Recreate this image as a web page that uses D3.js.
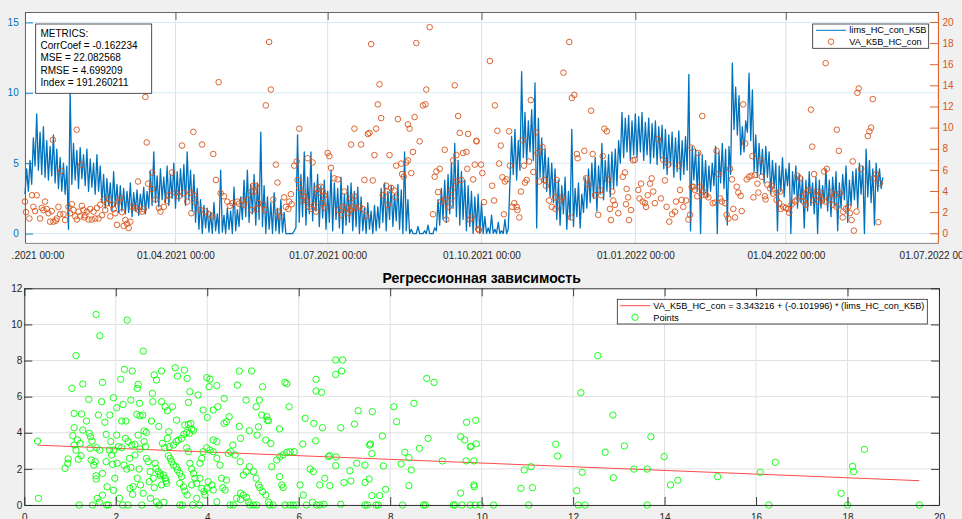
<!DOCTYPE html>
<html><head><meta charset="utf-8">
<script src="https://cdn.jsdelivr.net/npm/d3@7"></script>
<style>
body{margin:0;background:#f0f0f0;}
svg{display:block;font-family:"Liberation Sans",Arial,Helvetica,sans-serif;}
</style>
</head><body>
<svg id="c" width="962" height="519"></svg>
<script>
// ---------------- DATA ----------------
const xTickDates = ["2021-01-01","2021-04-01","2021-07-01","2021-10-01","2022-01-01","2022-04-01","2022-07-01"];
const yLeftTicks = [0,5,10,15];
const yRightTicks = [0,2,4,6,8,10,12,14,16,18,20];
const bottomXTicks = [0,2,4,6,8,10,12,14,16,18,20];
const bottomYTicks = [0,2,4,6,8,10,12];

// lims_HC_con_K5B : low / high value within each 2-day bin, starting 01.01.2021
const hcLow = [
2.8,3.0,3.5,4.8,4.5,4.2,4.0,3.8,4.1,3.6,
3.2,3.0,2.8,0.3,3.5,3.8,3.2,3.9,3.4,3.0,
3.3,2.8,3.0,2.2,1.8,2.0,1.6,1.9,1.5,1.6,
1.4,1.5,1.2,1.6,1.3,1.7,1.4,1.8,2.0,2.2,
1.9,2.4,2.2,2.0,2.5,1.8,2.3,2.6,2.0,2.4,
1.6,0.8,0.3,0.0,0.4,0.1,0.0,0.2,0.0,0.1,
0.0,0.3,0.0,0.2,0.5,1.0,1.2,0.8,1.4,0.6,
1.0,0.5,0.0,0.3,0.0,0.2,0.0,0.1,0,0,
0,0.4,0.8,1.2,0.6,1.4,0.9,1.6,0.5,1.1,
0.3,0.8,0.2,1.0,0.4,0.0,0.6,0.8,0.2,0.5,
0.0,0.2,0.0,0.3,0.0,0.2,0.4,0.8,0.2,1.0,
0.5,0.9,0.3,0.0,0.2,0,0,0,0,0,
0,0,0,0.2,0.6,1.0,0.8,1.4,1.8,1.2,
0.6,1.0,0.2,0.5,0.0,0.3,0.0,0,0,0,
0,0,0,0,0,3.6,4.2,3.8,4.5,5.4,
5.0,5.8,5.2,0.4,4.0,3.6,3.0,2.6,2.2,1.0,
0.6,1.4,0.3,1.0,0.5,1.2,0.4,1.5,1.8,2.2,
2.5,1.6,2.8,2.4,3.0,2.6,3.2,3.4,5.0,5.4,
5.8,5.2,5.6,5.4,5.8,5.2,5.6,5.0,5.4,4.9,
5.3,4.6,4.2,4.8,4.0,4.4,3.8,4.2,4.5,0.2,
3.8,3.0,0.0,2.8,2.6,3.0,3.4,0.0,3.6,3.2,
0.6,4.2,7.4,7.0,5.6,5.8,7.2,6.6,4.4,4.0,
4.2,3.6,4.0,2.8,3.2,0.2,3.0,2.6,3.4,0.0,
2.8,1.8,2.2,0.4,1.6,2.0,1.4,0.0,1.8,2.2,
1.6,1.2,2.0,0.2,1.8,2.4,0.8,2.0,2.4,1.8,
2.8,0.0,2.6,2.2,0.6,3.0,3.2];
const hcHigh = [
4.6,5.2,6.8,8.5,7.2,7.6,6.6,6.2,7.0,6.0,
5.4,5.0,4.8,10.2,6.4,5.9,6.1,5.6,6.0,5.3,
5.0,5.6,4.8,4.2,3.9,3.6,4.4,3.5,3.4,3.2,
3.0,3.6,2.9,3.1,2.8,3.3,3.0,4.4,5.8,4.1,
4.6,4.0,4.8,4.2,5.0,4.4,4.6,4.9,5.8,4.5,
4.2,3.2,2.4,2.0,1.8,1.5,2.2,1.4,4.5,1.3,
1.8,1.6,3.3,1.7,2.6,3.8,4.5,3.5,4.2,3.6,
7.2,3.4,2.6,2.2,2.9,1.8,2.4,1.5,0,0,
0.2,7.0,4.2,5.8,4.0,5.8,3.6,4.2,3.4,3.8,
3.0,4.5,3.6,3.2,4.0,2.8,3.4,3.6,3.0,3.3,
2.6,1.8,2.2,1.6,2.0,1.9,3.2,3.6,3.0,3.4,
2.8,3.5,3.1,5.8,2.4,0.3,0,0.5,0,0.2,
0.6,0,0.4,2.4,3.2,3.8,4.2,5.0,6.4,5.2,
4.4,3.8,3.4,3.0,2.6,2.8,2.2,1.2,0.4,1.3,
0.3,0.8,0.2,1.0,0.3,6.9,7.4,6.6,11.5,8.6,
8.0,8.8,10.7,8.2,6.8,6.0,5.4,5.0,4.6,3.8,
3.4,4.0,3.0,7.4,3.2,3.6,2.8,4.0,4.6,5.0,
5.4,4.8,6.4,5.2,5.6,5.8,6.0,6.6,8.6,8.2,
8.4,8.0,8.5,8.3,8.6,7.9,8.2,7.8,8.0,7.6,
7.7,7.4,7.0,7.2,6.8,7.3,6.6,6.9,11.3,6.2,
6.0,5.8,5.6,5.2,4.8,5.0,6.2,5.8,6.4,6.0,
6.2,12.1,10.4,9.8,7.6,8.0,11.4,10.2,7.0,6.4,
6.0,6.2,5.8,5.2,5.0,4.8,5.4,4.6,5.0,4.4,
4.8,4.2,4.0,3.8,4.4,3.6,4.0,3.8,3.4,4.6,
3.8,4.0,4.4,3.6,4.2,4.8,3.8,4.4,4.6,5.0,
4.8,6.0,5.2,4.6,5.0,4.6,4.0];

// VA_K5B_HC_con : [day since 01.01.2021, value]
const vaPoints = [
[57.8,16.4],[72,12.9],[115.8,14.3],[30.9,9.8],[16.7,8.85],[72.8,8.6],[100.7,9.6],[93.9,8.3],[105.9,8.4],[112.6,7.5],
[33.7,6.5],[21.7,5.9],[76,5.75],[87.9,5.75],[67.6,4.9],[73.6,4.7],[75.8,4.2],[114.2,5.05],[136.5,4.5],[4.2,3.6],
[7,3.6],[0,3.0],[0.6,2.0],[5,2.5],[6,2.1],[2.6,1.4],[9,1.4],[11,2.2],[12,3.0],[14,1.9],
[15,1.1],[17,1.1],[18.5,1.2],[20,2.5],[21,1.8],[23,1.8],[24,1.25],[26,2.5],[28,2.75],[29,2.2],
[30,1.6],[32,2.05],[35,2.2],[37,2.05],[33,1.6],[35.5,1.5],[38,1.3],[40,1.3],[42,1.4],[44,1.4],
[41,2.05],[43,2.4],[45,2.7],[47,3.2],[49,2.85],[50.4,3.2],[52,2.7],[54,1.9],[56,3.0],[57,3.3],
[60,1.25],[61,0.9],[63,1.1],[64,2.5],[66,2.4],[68,2.2],[70,2.05],[71,2.3],[78,3.2],[80,2.4],
[81,2.05],[83,2.5],[85,3.05],[86,3.6],[90,3.85],[92,3.5],[95,3.8],[97,3.0],[99,3.85],[101,3.6],
[99.5,1.9],[102,2.9],[105,2.2],[108,2.05],[110,1.8],[112,1.6],[117,3.8],[119,3.5],[121,3.0],[124,2.85],
[127,3.0],[130,3.1],[133,3.2],[122.5,2.6],[128,2.8],[131,2.7],[135.5,2.2],[135.5,3.95],
[10,2.4],[13,2.3],[16,2.1],[19,1.4],[27,1.9],[31,1.3],[34,2.6],[36,1.7],[39,2.3],[46,1.7],
[48,2.2],[51,1.6],[53,2.3],[55,0.8],[58,2.0],[59,0.7],[62,0.5],
[146,18.1],[147,13.6],[144,12.1],[164,9.9],[207,17.9],[234,18.0],[242,19.5],[212,14.1],[211,12.2],[213,10.9],
[240,13.6],[238,12.1],[239.5,12.2],[257,14.0],[259,11.1],[233,11.0],[223,10.8],[229,10.3],[230,9.9],[210,9.9],
[205,9.4],[206,9.5],[197,9.9],[195,8.4],[201,8.4],[209,7.4],[218,7.4],[236,8.7],[232,7.7],[260,9.5],
[265,9.4],[270,8.7],[251,7.9],[256,6.9],[258,7.4],[262,7.6],[264,7.7],[269,6.5],[264.5,6.1],[268,5.1],
[261,5.05],[222,6.4],[225,6.6],[228,6.7],[229,6.9],[225.5,5.6],[226.5,5.35],[231,5.7],[246,5.85],[248,6.1],
[245,5.35],[247,3.9],[249,3.0],[251,3.2],[244,1.8],[252,1.3],[253.5,2.5],[255,3.3],[266,1.3],[267,1.5],
[271,0.4],[181,7.6],[182,7.3],[183,6.2],[185,5.2],[187,5.1],[169,7.1],[172,6.7],[161,6.4],[162.5,6.8],
[150,6.5],[151,4.8],[138,4.5],[137,3.95],[163,5.05],[164,4.3],[166,3.85],[167,3.5],[165.5,3.1],[168,3.1],
[174.5,4.2],[177,4.4],[178,3.95],[179,3.6],[175,3.8],[191,3.95],[195,3.3],[197,3.5],[203,5.05],[208,5.0],
[216,4.5],[219,4.3],[221,4.05],[214,3.6],[216.5,3.95],[221.5,3.4],[217,2.7],[155,3.4],[158,3.0],[159,3.7],
[148.5,3.2],[156,2.5],[157.5,2.3],[159.5,2.75],[151.5,2.05],[153,1.6],[142.5,2.7],[143.5,2.2],[139.5,2.85],[138.5,2.3],
[170,2.5],[171.5,2.3],[173,2.7],[174,2.05],[177.5,2.85],[179.5,2.4],[187.5,2.2],[189,1.75],[190,2.5],[192,2.4],
[193.5,1.9],[194.5,2.2],[196,2.5],[198,2.4],[200,2.5],[202,2.3],[204,1.65],[255,4.1],[258,4.9],
[325.5,18.1],[278,16.3],[322,15.2],[328.5,13.1],[327,12.8],[302.5,12.6],[281,12.1],[338.5,11.6],[346.5,9.9],[348,9.65],
[282.5,9.7],[289.5,9.65],[305.5,9.55],[297.5,8.8],[270,8.75],[284.5,8.3],[309.5,8.15],[306.5,7.6],[334.5,7.8],[339.5,7.5],
[330,7.5],[330.5,7.1],[345.5,7.3],[378.5,8.9],[405,11.1],[363.7,6.9],[364.7,6.95],[381.7,6.95],[384.7,6.5],[391,6.4],
[398.7,8.1],[402.6,7.6],[283.5,6.6],[290,6.4],[301.4,6.8],[298.4,6.4],[272.7,6.5],[273.5,5.7],[285.5,5.3],[288,5.1],
[287,4.9],[279.4,4.5],[304,5.8],[300,5.05],[299,4.8],[307.5,4.9],[310.5,5.05],[311.5,4.5],[318,5.05],[335.5,5.2],
[337,4.6],[348.5,5.1],[357.5,5.35],[358.8,5.75],[368.4,4.7],[373.8,4.7],[374.8,5.2],[382.7,5.0],[398.7,4.4],[400.6,4.1],
[402,3.5],[296.6,3.95],[313.4,3.1],[317,3.4],[320,3.15],[321,3.4],[315,2.5],[317.3,2.3],[292.6,2.85],[294,2.5],
[294.5,2.2],[295.6,1.5],[291.4,2.5],[286.4,1.8],[280.5,3.1],[274.5,2.95],[326.5,1.5],[342.8,1.75],[340.9,3.6],[344.5,3.6],
[343.9,4.1],[351.2,3.95],[351.8,3.1],[352.8,2.7],[349.8,2.3],[354.8,1.9],[350.4,1.25],[359.8,4.2],[360.7,3.4],[359.4,2.75],
[362.4,2.2],[361.2,1.25],[366.8,4.1],[367.5,3.3],[369.4,3.0],[370.8,2.85],[371.4,2.5],[372.4,3.6],[375.7,3.95],[376.7,2.85],
[380.3,3.3],[383.7,2.5],[385.3,1.1],[387,1.8],[388.7,2.05],[389.3,3.0],[391.7,4.1],[392.7,3.15],[393.7,2.5],[395.3,3.1],
[396.7,1.3],[397.7,1.75],[399.7,4.4],[405.6,3.95],[271.5,0.3],
[478.8,16.1],[498.6,13.7],[497.8,13.3],[507,12.7],[470,11.7],[429.5,12.2],[485.5,9.8],[506,10.0],[505,9.65],[504,9.2],
[470.8,8.2],[486.7,7.8],[430.7,8.5],[413.6,7.8],[435,7.3],[439.8,6.9],[495,6.8],[500,6.1],[421.6,6.1],[479.5,6.1],
[477.9,5.85],[471.9,5.6],[462,5.45],[463.5,5.2],[509,5.6],[507.6,5.2],[511.3,4.75],[414.6,5.6],[422.8,5.1],[431.6,5.1],
[433,5.35],[434.5,5.45],[436.6,5.5],[440.6,5.35],[438,4.7],[444,4.6],[445.6,4.25],[446.6,4.5],[425.6,4.4],[426.6,3.85],
[428,3.55],[403.7,4.4],[404.7,3.6],[407.3,3.6],[408.7,3.4],[411.3,2.85],[412.7,2.9],[415.7,3.3],[416.7,3.0],[418.6,2.85],
[419.6,1.75],[420.6,1.4],[424.6,1.5],[423.6,2.3],[428.6,2.1],[435.6,3.4],[438.6,3.85],[442.5,3.5],[447.5,3.75],[449.5,3.85],
[451.5,3.95],[442.9,3.2],[449.5,3.15],[451,2.85],[452,2.3],[453.5,2.5],[455,2.4],[456.4,2.3],[457,1.95],[458.5,2.75],
[460.5,3.0],[461.5,3.15],[464.5,3.5],[465.8,3.0],[467,2.7],[467.8,3.95],[468.8,4.1],[473.4,3.95],[474.4,3.6],[475.8,3.8],
[471.4,3.15],[474.4,3.0],[476.5,3.15],[478.4,3.0],[480.8,3.2],[482.4,3.85],[484.4,3.6],[487.3,3.8],[483.4,2.7],[485.4,2.5],
[489.3,2.05],[490.9,2.3],[492.3,2.5],[493.3,1.9],[489,1.5],[494.3,1.25],[495.7,0.25],[497.3,2.05],[510.3,1.05]];

// Regression scatter: [VA_K5B_HC_con, lims_HC_con_K5B]
const scatPoints = [
[0.29,3.54],[0.31,0.37],[0.89,2.03],[0.95,2.31],[0.96,2.55],[1.04,6.46],[1.06,3.84],[1.09,4.28],[1.09,5.07],[1.13,8.27],
[1.09,3.32],[1.13,3.04],[1.16,3.60],[1.18,2.53],[1.22,3.41],[1.24,2.73],[1.25,5.04],[1.28,6.70],[1.28,4.15],[1.20,0],
[1.36,4.65],[1.41,5.85],[1.42,3.97],[1.45,3.78],[1.44,3.14],[1.48,3.54],[1.46,2.49],[1.49,0],[1.52,2.21],[1.55,2.40],
[1.57,1.62],[1.57,1.44],[1.57,10.55],[1.58,3.17],[1.62,4.98],[1.60,0.37],[1.64,0.15],[1.65,3.04],[1.65,9.37],
[1.69,5.72],[1.71,6.79],[1.71,1.75],[1.71,0.55],[1.76,4.58],[1.79,3.91],[1.79,2.40],[1.80,0],[1.81,1.01],[1.84,0],
[1.86,3.04],[1.87,4.98],[1.89,3.51],[1.91,2.77],[1.93,2.25],[1.95,5.94],[1.95,0.81],[1.96,3.04],[1.98,1.48],
[2.02,5.39],[2.02,3.87],[2.03,2.31],[2.06,3.23],[2.08,0.37],[2.11,6.96],[2.13,4.65],[2.13,3.17],[2.15,0],[2.16,5.57],
[2.18,2.21],[2.19,7.51],[2.21,3.69],[2.22,4.65],[2.24,1.99],[2.25,10.24],[2.27,0],[2.27,3.51],[2.30,2.58],[2.31,0.92],
[2.33,5.81],[2.33,2.07],[2.35,3.32],[2.36,7.42],[2.37,0.59],[2.38,1.01],
[2.42,2.77],[2.42,3.36],[2.46,5.02],[2.47,6.46],[2.47,1.48],[2.49,6.68],[2.49,3.87],[2.51,1.99],[2.52,5.63],[2.53,3.10],
[2.53,4.94],[2.54,1.11],[2.57,0],[2.59,4.98],[2.60,8.52],[2.60,0.65],[2.62,4.10],[2.62,3.51],[2.65,3.23],[2.67,4.02],
[2.67,2.58],[2.71,2.40],[2.73,1.29],[2.75,1.85],[2.76,0.37],[2.78,4.65],
[2.80,6.18],[2.81,5.72],[2.82,1.48],[2.84,7.20],[2.84,0.96],[2.86,2.31],[2.88,2.03],[2.89,6.92],[2.89,0.18],[2.93,1.85],
[2.94,4.35],[2.95,0],[2.97,1.72],[2.98,1.62],[3.00,7.42],[3.00,5.72],[3.00,1.11],[3.02,3.41],[3.04,1.66],[3.05,0.15],
[3.07,3.17],[3.08,1.48],[3.08,5.44],[3.10,1.33],[3.11,1.20],[3.13,5.22],[3.13,3.69],[3.15,2.73],[3.16,4.06],[3.17,3.23],[3.19,2.58],
[3.22,2.40],[3.24,5.44],[3.26,2.21],[3.26,3.32],[3.30,7.60],[3.32,3.51],[3.32,2.12],[3.33,4.70],[3.35,1.94],[3.35,7.14],
[3.37,3.60],[3.40,1.75],[3.40,1.20],[3.40,0],[3.44,3.69],[3.44,1.57],[3.46,0],[3.48,1.01],[3.49,3.91],[3.50,7.47],
[3.51,4.43],[3.51,0.77],[3.55,3.17],[3.55,4.02],[3.56,7.01],[3.56,0.55],[3.59,4.46],[3.59,5.68],[3.59,2.95],
[3.61,3.97],[3.62,6.27],[3.62,2.31],[3.64,4.52],[3.66,1.99],[3.66,4.21],[3.66,1.11],[3.68,0],[3.70,1.75],[3.70,4.13],
[3.73,1.48],[3.77,1.20],[3.77,0.37],[3.80,6.09],[3.83,0],[3.84,1.48],[3.84,2.31],[3.88,0.92],[3.88,2.58],[3.91,5.26],
[3.91,2.95],[3.93,0.74],[3.95,0.55],[3.99,7.05],[3.99,3.17],[3.99,0.92],
[4.00,4.85],[4.02,1.29],[4.04,6.55],[4.06,6.97],[4.06,3.04],[4.10,1.11],[4.13,5.26],[4.13,3.60],[4.13,2.95],[4.13,0.83],
[4.21,3.51],[4.21,0.18],[4.21,6.61],[4.21,2.58],[4.23,5.44],[4.28,2.21],[4.31,1.48],[4.34,0.96],[4.37,4.52],[4.37,5.90],[4.39,0.83],
[4.42,4.61],[4.42,1.38],[4.46,2.86],[4.48,4.89],[4.50,0],[4.51,2.95],[4.56,3.32],[4.57,0],[4.61,2.77],[4.64,0.37],
[4.66,6.64],[4.70,7.42],[4.70,4.35],[4.72,2.40],[4.73,0.30],[4.73,3.69],[4.73,0.65],[4.79,1.66],[4.79,0.55],
[4.85,5.81],[4.85,1.85],[4.86,0.41],[4.90,0.18],[4.92,4.11],[4.92,2.12],[4.93,0],[4.97,7.42],[5.01,1.85],[5.01,0],
[5.07,5.44],[5.07,1.48],[5.08,0],[5.09,3.87],[5.12,4.33],[5.12,1.11],[5.14,5.81],[5.15,0.96],[5.19,4.98],
[5.21,6.55],[5.21,0.74],[5.28,3.60],[5.28,0.55],[5.30,4.89],[5.31,4.70],[5.34,4.67],[5.34,0.15],[5.36,0],[5.39,3.41],
[5.41,2.12],[5.44,0],[5.52,2.49],[5.58,4.21],[5.58,1.57],[5.59,2.68],
[5.63,1.11],[5.66,2.77],[5.66,0.96],[5.70,6.79],[5.70,0],[5.74,6.72],[5.74,2.92],[5.79,5.44],[5.81,0],[5.81,2.95],
[5.88,0],[5.90,2.95],[5.95,0],
[6.03,1.11],[6.09,3.38],[6.10,0.55],[6.14,4.80],[6.17,0],[6.25,1.99],[6.30,0.15],[6.32,1.85],[6.33,4.52],[6.37,3.56],
[6.38,6.96],[6.38,6.31],[6.39,0],[6.46,0],[6.46,1.11],[6.50,6.24],[6.52,4.28],[6.55,0.04],[6.57,1.48],[6.65,2.68],
[6.81,8.03],[6.96,8.03],[6.81,7.23],[6.94,7.42],[8.80,7.01],[8.96,6.79],[8.52,5.63],[8.08,5.44],[7.30,5.22],[7.61,5.17],
[8.14,4.61],[7.22,4.48],[6.92,4.28],[9.67,4.58],[9.87,4.69],[7.83,3.82],[8.83,3.69],[9.54,3.78],[9.63,3.60],[9.88,3.39],
[9.75,3.23],[9.77,3.25],[7.55,3.32],[7.57,3.38],[7.60,2.84],[8.64,3.14],[8.32,2.92],[8.41,2.62],[6.68,2.73],[6.82,2.66],
[7.27,2.31],[7.45,2.21],[6.81,2.18],[7.85,2.16],[8.24,2.27],[7.12,1.90],[8.46,1.94],[9.14,2.44],[9.66,2.44],[9.83,2.44],
[6.99,1.24],[7.14,1.33],[7.45,1.25],[7.54,1.44],[8.41,1.07],[7.90,0.87],[7.60,0.52],[7.77,0.52],[9.54,0.66],[9.83,1.11],
[9.84,1.01],[6.68,1.07],[6.92,0.04],[7.45,0],[7.50,0],[7.69,0],[7.74,0],[8.27,0],[8.73,0],[8.77,0],
[9.38,0],[9.42,0],[9.57,0],[9.75,0],[9.86,0],[9.97,0],[10.26,0],[11.03,0],[10.86,0.92],[11.11,0.96],
[10.93,1.94],[11.08,2.12],[11.62,3.36],[11.66,2.71],[12.08,0.79],[12.11,0],[12.26,0],[12.20,1.81],[12.17,6.22],[12.54,8.27],
[12.87,4.98],[12.70,2.92],[13.12,3.27],[12.88,1.51],[13.33,1.99],[13.62,1.99],[13.70,3.78],[13.62,0],
[13.99,2.68],[14.13,1.11],[14.29,1.37],[15.16,1.57],[16.09,1.81],[16.42,2.36],[16.28,0],[17.86,0.65],[18.00,0],[18.11,2.14],
[18.13,1.85],[18.37,3.08],[19.57,0]];

const regIntercept = 3.343216, regSlope = -0.101996;
const metricsLines = ["METRICS:","CorrCoef = -0.162234","MSE = 22.082568","RMSE = 4.699209","Index = 191.260211"];
const topLegend = ["lims_HC_con_K5B","VA_K5B_HC_con"];
const bottomLegend = ["VA_K5B_HC_con = 3.343216 + (-0.101996) * (lims_HC_con_K5B)","Points"];
const bottomTitle = "Регрессионная зависимость";

// ---------------- DRAW ----------------
const BLUE="#0072BD", ORANGE="#D95319", AX="#262626";
const svg = d3.select("#c");
svg.append("rect").attr("width",962).attr("height",519).attr("fill","#f0f0f0");
const defs = svg.append("defs");
defs.append("clipPath").attr("id","clipL").append("rect").attr("x",11.2).attr("y",0).attr("width",960).attr("height",519);

function styleAxis(g,color){
  g.attr("font-family",null).attr("font-size",null);
  g.select(".domain").attr("stroke",color).attr("stroke-width",0.9);
  g.selectAll(".tick line").attr("stroke",color).attr("stroke-width",0.9);
  g.selectAll(".tick text").attr("fill",color).attr("font-size",10);
}

// ---- TOP PANEL ----
const T = {l:25, r:938, t:12, b:242.7};
const startMs = Date.UTC(2021,0,1);
const day2date = d => new Date(startMs + d*864e5);
const xTicks = xTickDates.map(s => new Date(s+"T00:00:00Z"));
const xT = d3.scaleUtc().domain([xTicks[0], xTicks[xTicks.length-1]]).range([T.l,T.r]);
const yL = d3.scaleLinear().domain([-0.65,15.74]).range([T.b,T.t]);
const yR = d3.scaleLinear().domain([-0.89,20.94]).range([T.b,T.t]);

svg.append("rect").attr("x",T.l).attr("y",T.t).attr("width",T.r-T.l).attr("height",T.b-T.t).attr("fill","#fff");
const gTop = svg.append("g");
gTop.selectAll("line.vg").data(xTicks).join("line").attr("class","vg")
  .attr("x1",d=>xT(d)).attr("x2",d=>xT(d)).attr("y1",T.t).attr("y2",T.b).attr("stroke","#e0e0e0");
gTop.selectAll("line.hg").data(yLeftTicks).join("line").attr("class","hg")
  .attr("x1",T.l).attr("x2",T.r).attr("y1",d=>yL(d)).attr("y2",d=>yL(d)).attr("stroke","#d9eaf5");

const hcSeries = [];
hcLow.forEach((lo,k) => { hcSeries.push([2*k, lo]); hcSeries.push([2*k+1, hcHigh[k]]); });
gTop.append("path").datum(hcSeries)
  .attr("d", d3.line().x(d=>xT(day2date(d[0]))).y(d=>yL(d[1])))
  .attr("fill","none").attr("stroke",BLUE).attr("stroke-width",1.3).attr("stroke-linejoin","round");

gTop.selectAll("circle.va").data(vaPoints).join("circle").attr("class","va")
  .attr("cx",d=>xT(day2date(d[0]))).attr("cy",d=>yR(d[1])).attr("r",2.8)
  .attr("fill","none").attr("stroke",ORANGE).attr("stroke-width",0.9);

// axes
const gxb = svg.append("g").attr("transform",`translate(0,${T.b})`).attr("clip-path","url(#clipL)")
  .call(d3.axisBottom(xT).tickValues(xTicks).tickFormat(d3.utcFormat("%d.%m.%Y %H:%M")).tickSize(-8).tickSizeOuter(0).tickPadding(9.5));
styleAxis(gxb,"#555"); gxb.selectAll(".tick text").attr("fill",AX);
const gxt = svg.append("g").attr("transform",`translate(0,${T.t})`)
  .call(d3.axisTop(xT).tickValues(xTicks).tickFormat(()=> "").tickSize(-8).tickSizeOuter(0));
styleAxis(gxt,"#555");
const gyl = svg.append("g").attr("transform",`translate(${T.l},0)`)
  .call(d3.axisLeft(yL).tickValues(yLeftTicks).tickSize(-8).tickSizeOuter(0).tickPadding(6.3));
styleAxis(gyl,BLUE);
const gyr = svg.append("g").attr("transform",`translate(${T.r},0)`)
  .call(d3.axisRight(yR).tickValues(yRightTicks).tickSize(-8).tickSizeOuter(0).tickPadding(4.5));
styleAxis(gyr,ORANGE);

// metrics box
svg.append("rect").attr("x",35.7).attr("y",24).attr("width",116).attr("height",69.3)
  .attr("fill","#fff").attr("stroke",AX).attr("stroke-width",0.8);
svg.selectAll("text.met").data(metricsLines).join("text").attr("class","met")
  .attr("x",40.5).attr("y",(d,i)=>36.7+i*12.3).attr("font-size",10).attr("fill","#000").text(d=>d);

// top legend
svg.append("rect").attr("x",812.7).attr("y",24).attr("width",116).attr("height",24.3)
  .attr("fill","#fff").attr("stroke",AX).attr("stroke-width",0.8);
svg.append("line").attr("x1",816).attr("x2",846).attr("y1",30.3).attr("y2",30.3).attr("stroke",BLUE).attr("stroke-width",1);
svg.append("circle").attr("cx",831).attr("cy",41.7).attr("r",2.8).attr("fill","none").attr("stroke",ORANGE).attr("stroke-width",0.9);
svg.selectAll("text.tl").data(topLegend).join("text").attr("class","tl")
  .attr("x",849.3).attr("y",(d,i)=>33.4+i*11.4).attr("font-size",9.2).attr("fill","#000").text(d=>d);

// ---- BOTTOM PANEL ----
const B = {l:24.3, r:939, t:288.3, b:505};
const xB = d3.scaleLinear().domain([0,20]).range([B.l,B.r]);
const yB = d3.scaleLinear().domain([0,12]).range([B.b,B.t]);
svg.append("rect").attr("x",B.l).attr("y",B.t).attr("width",B.r-B.l).attr("height",B.b-B.t).attr("fill","#fff");
const gB = svg.append("g");
gB.selectAll("line.vg").data(bottomXTicks).join("line").attr("class","vg")
  .attr("x1",d=>xB(d)).attr("x2",d=>xB(d)).attr("y1",B.t).attr("y2",B.b).attr("stroke","#e0e0e0");
gB.selectAll("line.hg").data(bottomYTicks).join("line").attr("class","hg")
  .attr("x1",B.l).attr("x2",B.r).attr("y1",d=>yB(d)).attr("y2",d=>yB(d)).attr("stroke","#e0e0e0");

const xExt = d3.extent(scatPoints, d=>d[0]);
gB.append("path").datum(xExt.map(x=>[x, regIntercept + regSlope*x]))
  .attr("d", d3.line().x(d=>xB(d[0])).y(d=>yB(d[1])))
  .attr("fill","none").attr("stroke","#ff4a4a").attr("stroke-width",1);
gB.selectAll("circle.sp").data(scatPoints).join("circle").attr("class","sp")
  .attr("cx",d=>xB(d[0])).attr("cy",d=>yB(d[1])).attr("r",3.2)
  .attr("fill","none").attr("stroke","#00ff00").attr("stroke-width",0.9);

const bxb = svg.append("g").attr("transform",`translate(0,${B.b})`)
  .call(d3.axisBottom(xB).tickValues(bottomXTicks).tickSize(-8).tickSizeOuter(0).tickPadding(8.4));
styleAxis(bxb,AX);
const bxt = svg.append("g").attr("transform",`translate(0,${B.t})`)
  .call(d3.axisTop(xB).tickValues(bottomXTicks).tickFormat(()=> "").tickSize(-8).tickSizeOuter(0));
styleAxis(bxt,AX);
const byl = svg.append("g").attr("transform",`translate(${B.l},0)`)
  .call(d3.axisLeft(yB).tickValues(bottomYTicks).tickSize(-8).tickSizeOuter(0).tickPadding(2));
styleAxis(byl,AX);
const byr = svg.append("g").attr("transform",`translate(${B.r},0)`)
  .call(d3.axisRight(yB).tickValues(bottomYTicks).tickFormat(()=> "").tickSize(-8).tickSizeOuter(0));
styleAxis(byr,AX);

svg.append("text").attr("x",(B.l+B.r)/2).attr("y",283.3).attr("text-anchor","middle")
  .attr("font-size",14).attr("font-weight","bold").attr("fill","#000").text(bottomTitle);

// bottom legend
svg.append("rect").attr("x",617.3).attr("y",299.3).attr("width",310).attr("height",24.7)
  .attr("fill","#fff").attr("stroke",AX).attr("stroke-width",0.8);
svg.append("line").attr("x1",620).attr("x2",650).attr("y1",305.7).attr("y2",305.7).attr("stroke","#ff4a4a").attr("stroke-width",1);
svg.append("circle").attr("cx",635).attr("cy",317.3).attr("r",3.2).attr("fill","none").attr("stroke","#00ff00").attr("stroke-width",0.9);
svg.selectAll("text.bl").data(bottomLegend).join("text").attr("class","bl")
  .attr("x",653.3).attr("y",(d,i)=>309+i*11.7).attr("font-size",9.2).attr("fill","#000").text(d=>d);
</script>
</body></html>
